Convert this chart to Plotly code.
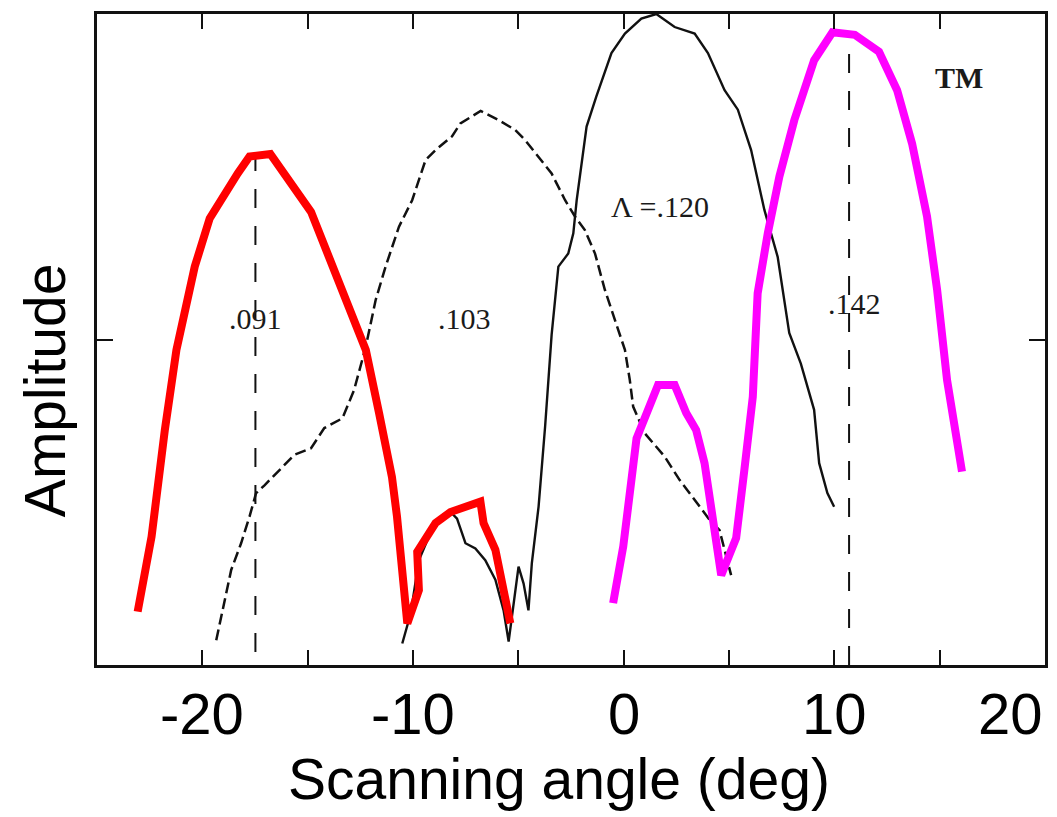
import plotly.graph_objects as go

# ---- data (scanning angle in deg, normalised amplitude) ----
red_x = [-23.07, -22.41, -21.78, -21.23, -20.36, -19.65, -18.32, -17.76, -16.77, -14.84,
         -12.56, -12.24, -11.61, -11.00, -10.76, -10.27, -9.72, -9.80, -8.93, -8.22,
         -6.80, -6.65, -6.09, -5.38]
red_y = [0.082, 0.197, 0.361, 0.484, 0.612, 0.686, 0.755, 0.781, 0.785, 0.696,
         0.510, 0.484, 0.387, 0.289, 0.228, 0.064, 0.115, 0.174, 0.218, 0.235,
         0.251, 0.218, 0.177, 0.064]

magenta_x = [-0.50, -0.02, 0.61, 1.63, 2.42, 2.97, 3.44, 3.84, 4.63, 5.34, 5.73, 6.13,
             6.36, 6.84, 7.39, 8.10, 9.04, 9.91, 10.97, 12.12, 12.98, 13.69, 14.40,
             14.88, 15.35, 16.06]
magenta_y = [0.095, 0.182, 0.348, 0.430, 0.430, 0.387, 0.361, 0.310, 0.138, 0.195, 0.300,
             0.412, 0.571, 0.663, 0.750, 0.837, 0.929, 0.972, 0.968, 0.942, 0.883, 0.801,
             0.689, 0.576, 0.438, 0.297]

solid_x = [-10.51, -10.11, -9.72, -9.25, -8.62, -8.22, -7.91, -7.51, -7.04, -6.57, -6.09,
           -5.70, -5.46, -5.23, -4.99, -4.75, -4.52, -4.36, -4.04, -3.73, -3.42, -3.10,
           -2.63, -2.39, -2.23, -1.76, -1.30, -0.58, 0.06, 0.84, 1.55, 2.42, 3.37, 4.00,
           4.79, 5.42, 6.05, 6.68, 7.31, 7.86, 8.41, 9.04, 9.28, 9.67, 9.99]
solid_y = [0.033, 0.079, 0.161, 0.197, 0.230, 0.235, 0.225, 0.187, 0.179, 0.161, 0.131,
           0.084, 0.036, 0.090, 0.151, 0.125, 0.084, 0.156, 0.243, 0.366, 0.507, 0.612,
           0.632, 0.663, 0.714, 0.827, 0.873, 0.940, 0.970, 0.993, 1.000, 0.980, 0.970, 0.940,
           0.883, 0.853, 0.791, 0.699, 0.627, 0.510, 0.463, 0.392, 0.310, 0.264, 0.243]

dashed_x = [-19.34, -18.95, -18.63, -18.16, -17.76, -17.45, -17.05, -16.26, -15.63, -14.84,
            -14.21, -13.35, -12.80, -12.24, -11.77, -11.30, -10.67, -10.04, -9.40, -8.93,
            -8.15, -7.75, -6.79, -5.94, -5.15, -4.67, -4.04, -3.42, -2.78, -2.31, -1.84,
            -1.36, -0.89, -0.42, 0.06, 0.29, 0.45, 1.00, 1.95, 2.66, 3.52, 4.08, 4.55, 5.10]
dashed_y = [0.038, 0.095, 0.146, 0.187, 0.228, 0.264, 0.276, 0.302, 0.323, 0.333,
            0.364, 0.379, 0.422, 0.489, 0.561, 0.612, 0.673, 0.714, 0.776, 0.791,
            0.812, 0.832, 0.851, 0.837, 0.822, 0.806, 0.781, 0.755, 0.714, 0.689, 0.668,
            0.632, 0.576, 0.530, 0.484, 0.438, 0.397, 0.356, 0.320, 0.284, 0.248, 0.223,
            0.207, 0.138]

peak_angles = [-17.48, 10.70]
peak_tops = [0.78, 0.97]
peak_bottoms = [0.02, 0.0]

curve_labels = [".091", ".103", "\u039b =.120", ".142", "<b>TM</b>"]
curve_label_x = [-17.48, -7.54, 1.73, 10.95, 15.92]
curve_label_y = [0.533, 0.533, 0.705, 0.555, 0.903]

tick_vals = [-20, -10, 0, 10, 20]
tick_text = ["-20", "-10", "0", "10", "20"]

X_RANGE = [-25, 20]
Y_RANGE = [0, 1]

fig = go.Figure()

for xa, yt, yb in zip(peak_angles, peak_tops, peak_bottoms):
    fig.add_trace(go.Scatter(x=[xa, xa], y=[yb, yt], mode="lines",
                             line=dict(color="#111111", width=2, dash="19px,18px"),
                             hoverinfo="skip", showlegend=False))

fig.add_trace(go.Scatter(x=dashed_x, y=dashed_y, mode="lines",
                         line=dict(color="#111111", width=2.5, dash="11px,5px"),
                         showlegend=False))
fig.add_trace(go.Scatter(x=solid_x, y=solid_y, mode="lines",
                         line=dict(color="#111111", width=2.4),
                         showlegend=False))
fig.add_trace(go.Scatter(x=red_x, y=red_y, mode="lines",
                         line=dict(color="#ff0000", width=8),
                         showlegend=False))
fig.add_trace(go.Scatter(x=magenta_x, y=magenta_y, mode="lines",
                         line=dict(color="#ff00ff", width=8),
                         showlegend=False))

annotations = []
for t, xx, yy in zip(curve_labels, curve_label_x, curve_label_y):
    annotations.append(dict(x=xx, y=yy, xref="x", yref="y", text=t, showarrow=False,
                            font=dict(family="Liberation Serif", size=30, color="#1a1a1a"),
                            xanchor="center", yanchor="middle"))

for v, t in zip(tick_vals, tick_text):
    anchor = "right" if v == X_RANGE[1] else "center"
    annotations.append(dict(x=v, y=-0.021, xref="x", yref="paper", text=t, showarrow=False,
                            font=dict(family="Liberation Sans", size=58, color="black"),
                            xanchor=anchor, yanchor="top"))

annotations.append(dict(x=0.487, y=-0.123, xref="paper", yref="paper",
                        text="Scanning angle (deg)", showarrow=False,
                        font=dict(family="Liberation Sans", size=57, color="black"),
                        xanchor="center", yanchor="top"))
annotations.append(dict(x=-0.055, y=0.422, xref="paper", yref="paper",
                        text="Amplitude", showarrow=False, textangle=-90,
                        font=dict(family="Liberation Sans", size=57, color="black"),
                        xanchor="center", yanchor="middle"))

fig.update_layout(
    width=1057, height=817,
    margin=dict(l=97, r=9, t=14, b=152),
    paper_bgcolor="white", plot_bgcolor="white",
    annotations=annotations,
    xaxis=dict(range=X_RANGE, showgrid=False, zeroline=False, showline=True,
               linecolor="#111111", linewidth=2.5, mirror="ticks",
               ticks="inside", ticklen=15, tickwidth=2, tickcolor="#111111",
               dtick=5, tick0=0, showticklabels=False),
    yaxis=dict(range=Y_RANGE, showgrid=False, zeroline=False, showline=True,
               linecolor="#111111", linewidth=2.5, mirror="ticks",
               ticks="inside", ticklen=16, tickwidth=1.5, tickcolor="#111111",
               tickvals=[0.5], showticklabels=False),
)

fig.write_html("out.html")
